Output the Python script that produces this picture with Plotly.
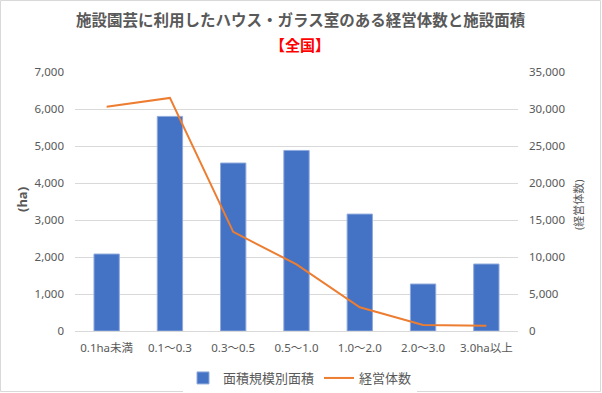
import plotly.graph_objects as go

categories = ["0.1ha未満", "0.1～0.3", "0.3～0.5", "0.5～1.0", "1.0～2.0", "2.0～3.0", "3.0ha以上"]
area_ha = [2080, 5800, 4540, 4880, 3160, 1270, 1810]
farms = [30300, 31500, 13400, 9000, 3200, 800, 700]
left_ticks = [0, 1000, 2000, 3000, 4000, 5000, 6000, 7000]
right_ticks = [0, 5000, 10000, 15000, 20000, 25000, 30000, 35000]

FONT = "Noto Sans, Noto Sans CJK JP, sans-serif"
GRAY = "#595959"

H, W = 393, 602
pt, pb, pl, pr = 72, 62, 75, 84
ph = H - pt - pb
pw = W - pl - pr
def py(ypix):
    return (H - pb - ypix) / ph
def px(xpix):
    return (xpix - pl) / pw

fig = go.Figure()
fig.add_trace(go.Bar(
    x=categories, y=area_ha, name="面積規模別面積",
    marker=dict(color="#4472C4", line=dict(color="#8FAADC", width=1)),
))
fig.add_trace(go.Scatter(
    x=categories, y=farms, name="経営体数", yaxis="y2", mode="lines",
    line=dict(color="#ED7D31", width=2),
))

fig.update_layout(
    width=W, height=H,
    margin=dict(l=pl, r=pr, t=pt, b=pb, autoexpand=False),
    paper_bgcolor="white", plot_bgcolor="white",
    font=dict(family=FONT, size=11, color=GRAY),
    bargap=0.6,
    showlegend=True,
    legend=dict(orientation="h", x=px(300), xanchor="center", y=py(378), yanchor="middle",
                font=dict(size=13, color=GRAY), itemwidth=30, tracegroupgap=0),
    xaxis=dict(showgrid=False, showline=True, linecolor="#D9D9D9", linewidth=1,
               ticks="", tickfont=dict(size=11.5, color=GRAY), ticklabelstandoff=6,
               automargin=False),
    yaxis=dict(range=[0, 7000], tickvals=left_ticks, tickformat=",",
               showgrid=True, gridcolor="#D9D9D9", gridwidth=1, zeroline=False,
               showline=False, ticks="", ticklabelstandoff=10, automargin=False,
               tickfont=dict(size=11.5, color=GRAY)),
    yaxis2=dict(range=[0, 35000], tickvals=right_ticks, tickformat=",",
                overlaying="y", side="right", showgrid=False, zeroline=False,
                showline=False, ticks="", ticklabelstandoff=10, automargin=False,
                tickfont=dict(size=11.5, color=GRAY)),
    annotations=[
        dict(text="<b>施設園芸に利用したハウス・ガラス室のある経営体数と施設面積</b>",
             x=px(301), xref="paper", y=py(19.5), yref="paper", yanchor="middle",
             showarrow=False, font=dict(size=15.5, color=GRAY, family=FONT)),
        dict(text="<b>【全国】</b>", x=px(300), xref="paper", y=py(45), yref="paper",
             yanchor="middle", showarrow=False,
             font=dict(size=15, color="#FF0000", family=FONT)),
        dict(text="<b>(ha)</b>", textangle=-90, x=px(22), xref="paper", y=py(200),
             yref="paper", xanchor="center", yanchor="middle", showarrow=False,
             font=dict(size=13, color=GRAY, family=FONT)),
        dict(text="(経営体数)", textangle=-90, x=px(578), xref="paper", y=py(205),
             yref="paper", xanchor="center", yanchor="middle", showarrow=False,
             font=dict(size=11, color=GRAY, family=FONT)),
    ],
)

fig.add_shape(type="rect", xref="paper", yref="paper",
              x0=px(0.5), x1=px(W - 1.5), y0=py(H - 1.5), y1=py(0.5),
              line=dict(color="#D9D9D9", width=1), layer="below")

fig.write_html("out.html", config={"displayModeBar": False},
               post_script="document.body.style.margin='0';document.body.style.overflow='hidden';")
